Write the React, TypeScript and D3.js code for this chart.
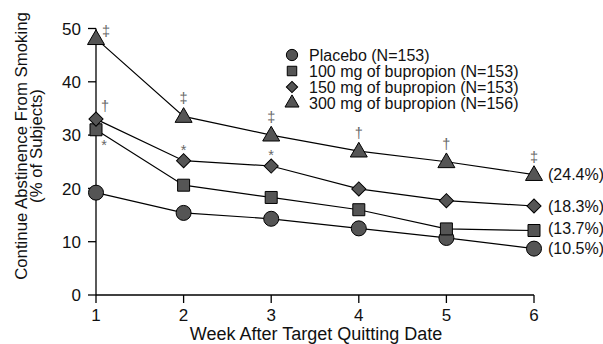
import React from 'react';
import * as d3 from 'd3';

const weeks = [1, 2, 3, 4, 5, 6];
const seriesNames = ['Placebo', '100 mg', '150 mg', '300 mg'];
const legendLabels = [
  'Placebo (N=153)',
  '100 mg of bupropion (N=153)',
  '150 mg of bupropion (N=153)',
  '300 mg of bupropion (N=156)',
];
const placebo = [19.2, 15.4, 14.3, 12.5, 10.7, 8.7];
const mg100 = [31.0, 20.6, 18.3, 16.0, 12.4, 12.1];
const mg150 = [33.0, 25.2, 24.2, 19.9, 17.7, 16.7];
const mg300 = [48.1, 33.5, 30.0, 27.0, 25.0, 22.6];
const endLabels = ['(10.5%)', '(13.7%)', '(18.3%)', '(24.4%)'];
const yTicks = [0, 10, 20, 30, 40, 50];

// significance marks: series index, week, symbol
const sigMarks = [
  { s: 3, w: 1, t: '‡' },
  { s: 2, w: 1, t: '†' },
  { s: 1, w: 1, t: '*' },
  { s: 3, w: 2, t: '‡' },
  { s: 2, w: 2, t: '*' },
  { s: 3, w: 3, t: '‡' },
  { s: 2, w: 3, t: '*' },
  { s: 3, w: 4, t: '†' },
  { s: 3, w: 5, t: '†' },
  { s: 3, w: 6, t: '‡' },
];

const allSeries = [placebo, mg100, mg150, mg300];
const symbolTypes = [d3.symbolCircle, d3.symbolSquare, d3.symbolSquare, d3.symbolTriangle];
const symbolSizes = [177, 144, 100, 125];
const legendSizes = [100, 90, 64, 85];
const rotations = [0, 0, 45, 0];

const font = 'Liberation Sans, Arial, Helvetica, sans-serif';

export default function App() {
  const width = 603;
  const height = 344;

  const x = d3.scaleLinear().domain([1, 6]).range([96, 534]);
  const y = d3.scaleLinear().domain([0, 50]).range([295, 28.5]);

  const line = d3
    .line<number>()
    .x((d, i) => x(weeks[i]))
    .y(d => y(d));

  const sym = (i: number, size: number) => d3.symbol().type(symbolTypes[i]).size(size)() as string;

  // place the mark next to its point
  const markFor = (m: { s: number; w: number; t: string }) => {
    const cx = x(m.w);
    const cy = y(allSeries[m.s][m.w - 1]);
    if (m.w === 1) {
      if (m.s === 1) return { x: cx + 8, y: cy + 20 };
      if (m.s === 2) return { x: cx + 9, y: cy - 8 };
      return { x: cx + 10, y: cy - 3 };
    }
    if (m.t === '*') return { x: cx, y: cy - 6 };
    return { x: cx, y: cy - 13 };
  };

  return (
    <svg
      width={width}
      height={height}
      style={{ position: 'absolute', left: 0, top: 0, background: '#fff' }}
      fontFamily={font}
    >
      {/* axes */}
      <g stroke="#000" strokeWidth={1.3} fill="none">
        <line x1={x(1)} x2={x(1)} y1={y(50)} y2={y(0)} />
        <line x1={x(1)} x2={x(6)} y1={y(0)} y2={y(0)} />
        {yTicks.map(t => (
          <line key={'yt' + t} x1={x(1) - 8} x2={x(1)} y1={y(t)} y2={y(t)} />
        ))}
        {weeks.map(w => (
          <line key={'xt' + w} x1={x(w)} x2={x(w)} y1={y(0)} y2={y(0) + 8} />
        ))}
      </g>
      <g fontSize={17} fill="#111">
        {yTicks.map(t => (
          <text key={'yl' + t} x={x(1) - 15} y={y(t)} dy="0.36em" textAnchor="end">
            {t}
          </text>
        ))}
        {weeks.map(w => (
          <text key={'xl' + w} x={x(w)} y={321} textAnchor="middle">
            {w}
          </text>
        ))}
      </g>
      <text x={316} y={340} fontSize={18} textAnchor="middle" fill="#111">
        Week After Target Quitting Date
      </text>
      <g transform="translate(27,146) rotate(-90)" fontSize={16.8} fill="#111" textAnchor="middle">
        <text x={0} y={0}>Continue Abstinence From Smoking</text>
        <text x={0} y={15}>(% of Subjects)</text>
      </g>

      {/* lines */}
      {allSeries.map((s, i) => (
        <path key={'ln' + i} d={line(s) as string} fill="none" stroke="#000" strokeWidth={1.2} />
      ))}

      {/* markers */}
      {allSeries.map((s, i) =>
        s.map((v, j) => (
          <path
            key={seriesNames[i] + j}
            d={sym(i, symbolSizes[i])}
            transform={`translate(${x(weeks[j])},${y(v) + (i === 3 ? 1 : 0)}) rotate(${rotations[i]})`}
            fill="#555"
            stroke="#000"
            strokeWidth={1}
          />
        ))
      )}

      {/* significance marks */}
      <g fill="#666" fontSize={14.5} textAnchor="middle">
        {sigMarks.map((m, k) => {
          const p = markFor(m);
          return (
            <text key={'sig' + k} x={p.x} y={p.y}>
              {m.t}
            </text>
          );
        })}
      </g>

      {/* end labels */}
      <g fontSize={16} fill="#111">
        {allSeries.map((s, i) => (
          <text key={'end' + i} x={548} y={y(s[5]) + (i === 1 ? -2 : 0)} dy="0.35em">
            {endLabels[i]}
          </text>
        ))}
      </g>

      {/* legend */}
      <g fontSize={16} fill="#111">
        {legendLabels.map((l, i) => (
          <g key={'lg' + i} transform={`translate(292,${55 + i * 16})`}>
            <path
              d={sym(i, legendSizes[i])}
              transform={`rotate(${rotations[i]})`}
              fill="#555"
              stroke="#000"
              strokeWidth={1}
            />
            <text x={17} y={0} dy="0.36em">
              {l}
            </text>
          </g>
        ))}
      </g>
    </svg>
  );
}
